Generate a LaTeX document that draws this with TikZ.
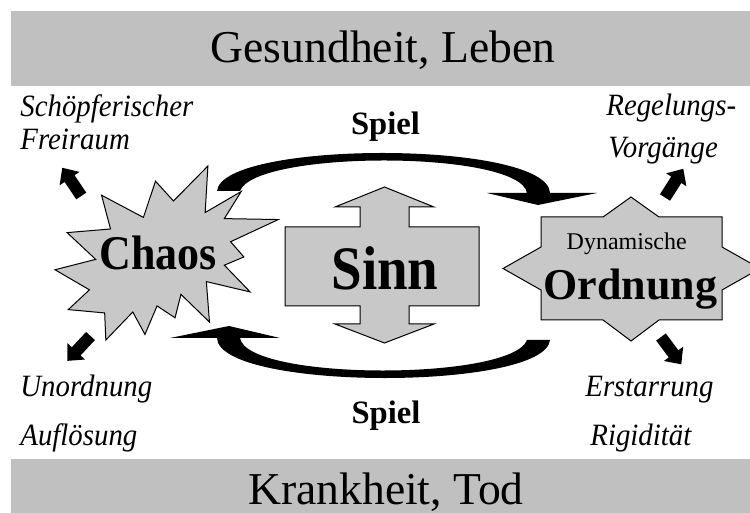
\documentclass[tikz,border=0pt]{standalone}
\usepackage{fontspec}
\setmainfont{Liberation Serif}
\newfontfamily\labelfont[FakeStretch=0.93]{Liberation Serif}
\definecolor{bannergray}{RGB}{192,192,192}
\definecolor{shapegray}{RGB}{200,200,200}
\tikzset{
  banner/.style={fill=bannergray},
  shapebox/.style={draw=black, line width=0.5pt, fill=shapegray, line join=miter},
  curvedarrow/.style={fill=black},
  smallarrow/.pic={\fill[black] (0,-6) -- (21,-6) -- (21,-12) -- (34,0) -- (21,12) -- (21,6) -- (0,6) -- cycle;},
  bannertext/.style={inner sep=0, anchor=base, font=\fontsize{22.8pt}{27pt}\selectfont},
  spieltext/.style={inner sep=0, anchor=base, font=\fontsize{16.3pt}{19pt}\selectfont\bfseries},
  lbl/.style={inner sep=0, anchor=base west, font=\labelfont\fontsize{15.5pt}{18pt}\selectfont\itshape},
  bigbold/.style={inner sep=0, anchor=base, font=\fontsize{22pt}{26pt}\selectfont\bfseries},
}
\begin{document}
\begin{tikzpicture}[x=0.5pt, y=-0.5pt]
\useasboundingbox (0,0) rectangle (750,513);
% banners
\fill[banner] (11,11) rectangle (760,86);
\fill[banner] (11,459) rectangle (760,540);
\node[bannertext] (gesund) at (383,62.5) {Gesundheit, Leben};
\node[bannertext] (krank) at (386,504) {Krankheit, Tod};
% Chaos explosion
\begin{scope}[shift={(27.5pt,-83pt)}, x=0.5169pt, y=-0.4028pt]
\draw[shapebox] (114.62,43.42) -- (147.90,0) -- (145.25,57.77) -- (180.07,31.72)
 -- (163.80,65.32) -- (216.00,66.45) -- (169.85,94.02) -- (182.70,112.90)
 -- (163.80,123.10) -- (188.77,156.32) -- (146.40,143.50) -- (149.42,193.70)
 -- (121.80,159.35) -- (116.12,188.42) -- (98.72,173.70) -- (87.00,209.00)
 -- (75.27,181.25) -- (49.17,216.00) -- (48.05,182.40) -- (12.85,178.25)
 -- (33.30,153.70) -- (0,128.77) -- (39.35,115.92) -- (11.72,82.70)
 -- (53.72,78.17) -- (45.02,36.25) -- (85.50,63.82) -- (97.22,18.87) -- cycle;
\end{scope}
% Sinn double arrow
\draw[shapebox] (285,227) -- (360,227) -- (360,207) -- (335,207) -- (384.5,187)
 -- (434,207) -- (409,207) -- (409,227) -- (479,227) -- (479,306) -- (409,306)
 -- (409,324) -- (434,324) -- (384.5,343) -- (335,324) -- (360,324) -- (360,306)
 -- (285,306) -- cycle;
% Ordnung star
\draw[shapebox] (541,217) -- (603,217) -- (631,197) -- (659,217) -- (722,217)
 -- (722,247) -- (760,268.5) -- (722,290) -- (722,320) -- (659,320) -- (631,341)
 -- (603,320) -- (541,320) -- (541,290) -- (503,268.5) -- (541,247) -- cycle;
% curved arrows
\fill[curvedarrow] (217,191) .. controls (222,140) and (548,140) .. (550,193)
 -- (597,193) -- (538,205) -- (487,193) -- (527,193)
 .. controls (520,150) and (255,150) .. (240,191) -- cycle;
\begin{scope}[rotate around={180:(383.5,265.5)}]
\fill[curvedarrow] (217,191) .. controls (222,140) and (548,140) .. (550,193)
 -- (597,193) -- (538,205) -- (487,193) -- (527,193)
 .. controls (520,150) and (255,150) .. (240,191) -- cycle;
\end{scope}
% small arrows
\pic[rotate=124] at (81.3,196) {smallarrow};
\pic[rotate=-133] at (90.5,336) {smallarrow};
\pic[rotate=57.5] at (665,197.5) {smallarrow};
\pic[rotate=-53.4] at (661,337) {smallarrow};
% texts
\node[bigbold] (chaos) at (158,270) {\scalebox{1}[1.1]{Chaos}};
\node[inner sep=0, anchor=base, font=\fontsize{30.9pt}{36pt}\selectfont\bfseries] (sinn) at (385,290) {\scalebox{0.89}[1]{Sinn}};
\node[inner sep=0, anchor=base, font=\fontsize{12pt}{14pt}\selectfont] (dyn) at (626.7,250) {Dynamische};
\node[bigbold] (ordnung) at (630.5,300) {Ordnung};
\node[spieltext] (spieltop) at (385.5,134.3) {Spiel};
\node[spieltext] (spielbot) at (386,423) {Spiel};
\node[lbl] (schoepf) at (20,116.3) {Schöpferischer};
\node[lbl] (frei) at (20,149.7) {Freiraum};
\node[lbl] (regel) at (606,116) {Regelungs-};
\node[lbl] (vorg) at (608,158) {Vorgänge};
\node[lbl] (unord) at (20,396) {Unordnung};
\node[lbl] (aufl) at (20,445) {Auflösung};
\node[lbl] (erst) at (585,396) {Erstarrung};
\node[lbl] (rigid) at (590,445) {Rigidität};
\end{tikzpicture}
\end{document}
